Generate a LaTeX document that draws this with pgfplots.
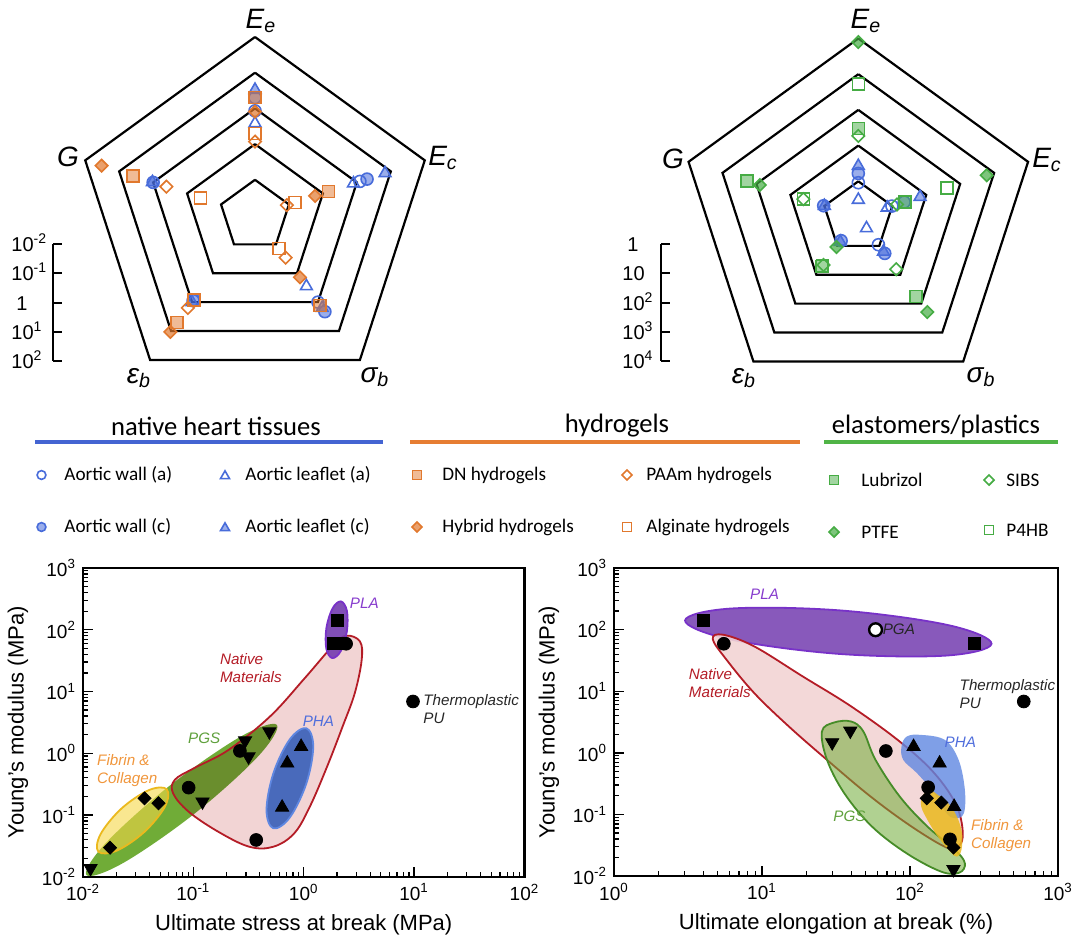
\documentclass[border=0pt]{standalone}
\usepackage{fontspec}
\setmainfont{Liberation Sans}
\newfontfamily\legfont{Carlito}
\usepackage{pgfplots}
\pgfplotsset{compat=1.18}
\definecolor{cblue}{RGB}{72,108,218}
\definecolor{corange}{RGB}{225,120,45}
\definecolor{cgreen}{RGB}{70,172,68}
\definecolor{hblue}{RGB}{68,100,210}
\definecolor{horange}{RGB}{230,125,50}
\definecolor{hgreen}{RGB}{80,180,70}
\definecolor{pinkF}{RGB}{242,212,212}
\definecolor{redE}{RGB}{180,28,38}
\definecolor{pgsF}{RGB}{112,172,55}
\definecolor{pgsE}{RGB}{70,140,40}
\definecolor{yelF}{RGB}{245,215,70}
\definecolor{yelE}{RGB}{235,185,30}
\definecolor{phaF}{RGB}{55,95,185}
\definecolor{phaE}{RGB}{95,135,225}
\definecolor{plaF}{RGB}{115,60,175}
\definecolor{plaE}{RGB}{120,50,200}
\definecolor{tPLA}{RGB}{135,60,205}
\definecolor{tPHA}{RGB}{80,110,220}
\definecolor{tPGS}{RGB}{95,160,60}
\definecolor{tFIB}{RGB}{240,150,60}
\tikzset{lab/.style={font=\itshape\fontsize{7.6}{9}\selectfont, align=left, inner sep=0pt},
  rlab/.style={font=\itshape\fontsize{14}{15}\selectfont}}
\pgfplotsset{
  radar/.style={anchor=center, x=17.85pt, y=17.85pt, xmin=-5.6, xmax=5.6, ymin=-5.6, ymax=5.6, hide axis, clip=false, data cs=polar},
  ring/.style={black, line width=1.1pt, mark=none, line join=miter},
  wallA/.style={only marks, mark=o, mark size=3pt, cblue, line width=0.8pt},
  wallC/.style={only marks, mark=*, mark size=3pt, mark options={draw=cblue, fill=cblue, fill opacity=0.55, line width=0.8pt}},
  leafA/.style={only marks, mark=triangle, mark size=3.4pt, cblue, line width=0.8pt},
  leafC/.style={only marks, mark=triangle*, mark size=3.4pt, mark options={draw=cblue, fill=cblue, fill opacity=0.55, line width=0.8pt}},
  dn/.style={only marks, mark=square*, mark size=3pt, mark options={draw=corange, fill=corange, fill opacity=0.5, line width=0.8pt}},
  hyb/.style={only marks, mark=square*, mark size=2.2pt, mark options={rotate=45, draw=corange, fill=corange, fill opacity=0.7, line width=0.8pt}},
  paam/.style={only marks, mark=square, mark size=2.2pt, mark options={rotate=45, draw=corange, line width=0.8pt}},
  alg/.style={only marks, mark=square, mark size=3pt, mark options={draw=corange, line width=0.8pt}},
  lub/.style={only marks, mark=square*, mark size=3pt, mark options={draw=cgreen, fill=cgreen, fill opacity=0.5, line width=0.8pt}},
  ptfe/.style={only marks, mark=square*, mark size=2.2pt, mark options={rotate=45, draw=cgreen, fill=cgreen, fill opacity=0.7, line width=0.8pt}},
  sibs/.style={only marks, mark=square, mark size=2.2pt, mark options={rotate=45, draw=cgreen, line width=0.8pt}},
  p4hb/.style={only marks, mark=square, mark size=3pt, mark options={draw=cgreen, line width=0.8pt}},
  bplot/.style={scale only axis, anchor=south west,
    axis line style={line width=1.1pt}, tick align=inside, tick pos=left,
    major tick length=5pt, minor tick length=2.6pt,
    major tick style={line width=0.7pt, black}, minor tick style={line width=0.6pt, black},
    ymin=0.01, ymax=1000, ytick={0.01,0.1,1,10,100,1000},
    yticklabels={10\textsuperscript{-2},10\textsuperscript{-1},10\textsuperscript{0},10\textsuperscript{1},10\textsuperscript{2},10\textsuperscript{3}},
    minor ytick={0.02,0.03,0.04,0.05,0.06,0.07,0.08,0.09,0.2,0.3,0.4,0.5,0.6,0.7,0.8,0.9,2,3,4,5,6,7,8,9,20,30,40,50,60,70,80,90,200,300,400,500,600,700,800,900},
    tick label style={font=\fontsize{9.5}{10}\selectfont},
    label style={font=\fontsize{11}{12}\selectfont},
    ylabel={Young's modulus (MPa)}},
  reg/.style={smooth cycle, tension=0.6, line width=0.9pt, mark=none},
  bc/.style={only marks, mark=*, mark size=3.2pt, black},
  bs/.style={only marks, mark=square*, mark size=3pt, black},
  bd/.style={only marks, mark=square*, mark size=2.3pt, black, mark options={rotate=45}},
  bdt/.style={only marks, mark=triangle*, mark size=3.8pt, black, mark options={rotate=180}},
  but/.style={only marks, mark=triangle*, mark size=3.8pt, black},
}
\begin{document}
\begin{tikzpicture}
\useasboundingbox (0,0) rectangle (540pt,-470.5pt);

% ---------- canvas: legend, radar labels, scale bars ----------
\begin{axis}[at={(0pt,0pt)}, anchor=north west, x=0.5pt, y=0.5pt, y dir=reverse,
  xmin=0, xmax=1080, ymin=0, ymax=941, hide axis, clip=false]
\node[rlab] at (261,21) {E\textsubscript{e}};
\node[rlab] at (443,158) {E\textsubscript{c}};
\node[rlab] at (68,157) {G};
\node[rlab] at (139,378) {ε\textsubscript{b}};
\node[rlab] at (375,377) {σ\textsubscript{b}};
\node[rlab] at (866,21) {E\textsubscript{e}};
\node[rlab] at (1047,160) {E\textsubscript{c}};
\node[rlab] at (673,159) {G};
\node[rlab] at (744,378) {ε\textsubscript{b}};
\node[rlab] at (981,377) {σ\textsubscript{b}};
\addplot[black, line width=0.9pt, mark=none] coordinates {(53,244) (53,361)};
\addplot[black, line width=0.9pt, mark=none, unbounded coords=jump] coordinates {(53,244) (62,244) (nan,nan) (53,273) (62,273) (nan,nan) (53,303) (62,303) (nan,nan) (53,332) (62,332) (nan,nan) (53,361) (62,361)};
\addplot[black, line width=0.9pt, mark=none] coordinates {(661,244) (661,361)};
\addplot[black, line width=0.9pt, mark=none, unbounded coords=jump] coordinates {(661,244) (670,244) (nan,nan) (661,273) (670,273) (nan,nan) (661,303) (670,303) (nan,nan) (661,332) (670,332) (nan,nan) (661,361) (670,361)};
\begin{scope}[every node/.style={font=\fontsize{10}{11}\selectfont, inner sep=0pt}]
\node[anchor=base west] at (11,251) {10\textsuperscript{-2}};
\node[anchor=base west] at (11,280) {10\textsuperscript{-1}};
\node[anchor=base] at (22,310) {1};
\node[anchor=base west] at (11,339) {10\textsuperscript{1}};
\node[anchor=base west] at (11,368) {10\textsuperscript{2}};
\node[anchor=base] at (633,251) {1};
\node[anchor=base west] at (622,280) {10};
\node[anchor=base west] at (622,310) {10\textsuperscript{2}};
\node[anchor=base west] at (622,339) {10\textsuperscript{3}};
\node[anchor=base west] at (622,368) {10\textsuperscript{4}};
\end{scope}
\addplot[hblue, line width=2pt, mark=none] coordinates {(35,442) (383,442)};
\addplot[horange, line width=2pt, mark=none] coordinates {(410,442) (800,442)};
\addplot[hgreen, line width=2pt, mark=none] coordinates {(824,442) (1058,442)};
\begin{scope}[every node/.style={font=\legfont\fontsize{13.3}{15}\selectfont}]
\node at (216,426) {native heart tissues};
\node at (617,426) {hydrogels};
\node at (936,426) {elastomers/plastics};
\end{scope}
\addplot[wallA, mark size=2.2pt] coordinates {(41.5,475)};
\addplot[wallC, mark size=2.2pt] coordinates {(41.5,527)};
\addplot[leafA, mark size=2.6pt] coordinates {(225,476)};
\addplot[leafC, mark size=2.6pt] coordinates {(225,528)};
\addplot[dn, mark size=2.3pt] coordinates {(417,475)};
\addplot[hyb, mark size=1.8pt] coordinates {(417,527)};
\addplot[paam, mark size=1.8pt] coordinates {(627,475)};
\addplot[alg, mark size=2.3pt] coordinates {(627,527)};
\addplot[lub, mark size=2.3pt] coordinates {(834,480)};
\addplot[ptfe, mark size=1.8pt] coordinates {(834,532)};
\addplot[sibs, mark size=1.8pt] coordinates {(989,480)};
\addplot[p4hb, mark size=2.3pt] coordinates {(989,530)};
\begin{scope}[every node/.style={font=\legfont\fontsize{9.6}{11}\selectfont, anchor=west, inner sep=0pt}]
\node at (64,475) {Aortic wall (a)};
\node at (64,527) {Aortic wall (c)};
\node at (245,475) {Aortic leaflet (a)};
\node at (245,527) {Aortic leaflet (c)};
\node at (442,475) {DN hydrogels};
\node at (442,527) {Hybrid hydrogels};
\node at (646,475) {PAAm hydrogels};
\node at (646,527) {Alginate hydrogels};
\node at (861,480) {Lubrizol};
\node at (861,532) {PTFE};
\node at (1006,480) {SIBS};
\node at (1006,530) {P4HB};
\end{scope}
\end{axis}

% ---------- left radar ----------
\begin{axis}[radar, at={(127.5pt,-107.75pt)}]
\addplot[ring] coordinates {(90,1) (18,1) (-54,1) (-126,1) (162,1) (90,1)};
\addplot[ring] coordinates {(90,2) (18,2) (-54,2) (-126,2) (162,2) (90,2)};
\addplot[ring] coordinates {(90,3) (18,3) (-54,3) (-126,3) (162,3) (90,3)};
\addplot[ring] coordinates {(90,4) (18,4) (-54,4) (-126,4) (162,4) (90,4)};
\addplot[ring] coordinates {(90,5) (18,5) (-54,5) (-126,5) (162,5) (90,5)};
\addplot[wallA] coordinates {(90,2.93) (18,3.09) (-54,3.0) (-126,2.92)};
\addplot[leafA] coordinates {(90,2.58) (18,2.90) (-54,2.45)};
\addplot[wallC] coordinates {(90,3.30) (18,3.30) (-54,3.33) (-126,2.95) (162,3.0)};
\addplot[leafC] coordinates {(90,3.52) (18,3.83) (-54,3.2) (-126,3.0) (162,3.02)};
\addplot[alg] coordinates {(90,2.30) (18,1.18) (-54,1.14) (-126,2.92) (162,1.61)};
\addplot[paam] coordinates {(90,2.07) (18,0.94) (-54,1.46) (-126,3.20) (162,2.61)};
\addplot[hyb] coordinates {(90,2.91) (18,1.77) (-54,2.14) (-126,4.03) (162,4.52)};
\addplot[dn] coordinates {(90,3.31) (18,2.16) (-54,3.11) (-126,3.71) (162,3.59)};
\end{axis}

% ---------- right radar ----------
\begin{axis}[radar, at={(429.15pt,-108.5pt)}]
\addplot[ring] coordinates {(90,1) (18,1) (-54,1) (-126,1) (162,1) (90,1)};
\addplot[ring] coordinates {(90,2) (18,2) (-54,2) (-126,2) (162,2) (90,2)};
\addplot[ring] coordinates {(90,3) (18,3) (-54,3) (-126,3) (162,3) (90,3)};
\addplot[ring] coordinates {(90,4) (18,4) (-54,4) (-126,4) (162,4) (90,4)};
\addplot[ring] coordinates {(90,5) (18,5) (-54,5) (-126,5) (162,5) (90,5)};
\addplot[wallA] coordinates {(90,0.96) (18,0.99) (-54,0.96)};
\addplot[leafA] coordinates {(90,0.48) (18,0.85) (-54,0.39)};
\addplot[wallC] coordinates {(90,1.22) (18,1.35) (-54,1.26) (-126,0.82) (162,1.02)};
\addplot[leafC] coordinates {(90,1.43) (18,1.82) (-54,1.2) (-126,0.86) (162,1.0)};
\addplot[p4hb] coordinates {(90,3.73) (18,2.61) (-54,2.75) (-126,1.72) (162,1.62)};
\addplot[sibs] coordinates {(90,2.27) (18,1.14) (-54,1.81) (-126,1.66) (162,1.62)};
\addplot[lub] coordinates {(90,2.48) (18,1.38) (-54,2.75) (-126,1.70) (162,3.27)};
\addplot[ptfe] coordinates {(90,4.9) (18,3.78) (-54,3.29) (-126,1.04) (162,2.90)};
\end{axis}

% ---------- bottom left ----------
\begin{loglogaxis}[bplot, at={(41.5pt,-438.35pt)}, width=220.75pt, height=154.35pt,
  xmin=0.01, xmax=100, xtick={0.01,0.1,1,10,100},
  xticklabels={10\textsuperscript{-2},10\textsuperscript{-1},10\textsuperscript{0},10\textsuperscript{1},10\textsuperscript{2}},
  minor xtick={0.02,0.03,0.04,0.05,0.06,0.07,0.08,0.09,0.2,0.3,0.4,0.5,0.6,0.7,0.8,0.9,2,3,4,5,6,7,8,9,20,30,40,50,60,70,80,90},
  xlabel={Ultimate stress at break (MPa)}]
\addplot[reg, draw=none, fill=pinkF] coordinates {(2.42,80.0) (3.23,64.7) (3.35,32.6) (2.90,9.40) (2.25,2.71) (1.628,0.608) (1.135,0.136) (0.820,0.0504) (0.531,0.0306) (0.321,0.0306) (0.1675,0.0537) (0.0906,0.113) (0.0655,0.2245) (0.0678,0.370) (0.101,0.571) (0.208,1.13) (0.494,3.93) (1.02,16.4) (1.815,53.7)};
\addplot[reg, draw=none, fill=pgsF, blend mode=multiply] coordinates {(0.571,2.88) (0.382,0.873) (0.101,0.103) (0.0230,0.0166) (0.01074,0.01064) (0.0161,0.0351) (0.0610,0.298) (0.267,1.85)};
\addplot[reg, draw=redE, fill=none] coordinates {(2.42,80.0) (3.23,64.7) (3.35,32.6) (2.90,9.40) (2.25,2.71) (1.628,0.608) (1.135,0.136) (0.820,0.0504) (0.531,0.0306) (0.321,0.0306) (0.1675,0.0537) (0.0906,0.113) (0.0655,0.2245) (0.0678,0.370) (0.101,0.571) (0.208,1.13) (0.494,3.93) (1.02,16.4) (1.815,53.7)};
\addplot[reg, draw=yelE, fill=yelF, fill opacity=0.6] coordinates {(0.0574,0.261) (0.0552,0.136) (0.0358,0.0528) (0.0202,0.0264) (0.0138,0.0254) (0.0144,0.0485) (0.0222,0.126) (0.0394,0.252)};
\addplot[reg, draw=phaE, fill=phaF, fill opacity=0.9] coordinates {(1.056,2.54) (1.219,1.29) (1.057,0.326) (0.750,0.0918) (0.531,0.0608) (0.460,0.120) (0.531,0.474) (0.748,1.68)};
\addplot[reg, draw=plaE, fill=plaF, fill opacity=0.9] coordinates {(2.17,288) (2.46,203) (2.46,94.6) (2.17,45.5) (1.815,34.8) (1.602,49.2) (1.603,105.7) (1.82,220)};
\addplot[bd] coordinates {(0.0176,0.0295) (0.0361,0.186) (0.0483,0.155)};
\addplot[bdt] coordinates {(0.0117,0.0137) (0.121,0.164) (0.294,1.60) (0.316,0.88) (0.488,2.24)};
\addplot[but] coordinates {(0.637,0.133) (0.709,0.689) (0.947,1.28)};
\addplot[bs] coordinates {(2.02,140) (1.84,61) (2.07,61)};
\addplot[bc] coordinates {(0.0906,0.277) (0.264,1.09) (0.371,0.0394) (2.42,59.3) (9.77,6.89)};
\node[lab, text=tPLA, anchor=west] at (2.60,270) {PLA};
\node[lab, text=redE, anchor=west] at (0.173,23.9) {Native\\Materials};
\node[lab, text=tPHA] at (1.36,3.26) {PHA};
\node[lab, text=tPGS] at (0.1254,1.75) {PGS};
\node[lab, text=tFIB, anchor=west] at (0.01335,0.524) {Fibrin \&\\Collagen};
\node[lab, text=black!85, anchor=west] at (12.05,5.17) {Thermoplastic\\PU};
\end{loglogaxis}

% ---------- bottom right ----------
\begin{loglogaxis}[bplot, at={(307pt,-438pt)}, width=222pt, height=154pt,
  xmin=1, xmax=1000, xtick={1,10,100,1000},
  xticklabels={10\textsuperscript{0},10\textsuperscript{1},10\textsuperscript{2},10\textsuperscript{3}},
  minor xtick={2,3,4,5,6,7,8,9,20,30,40,50,60,70,80,90,200,300,400,500,600,700,800,900},
  xlabel={Ultimate elongation at break (\%)}]
\addplot[reg, draw=plaE, fill=plaF, fill opacity=0.85] coordinates {(355.6,58.9) (173.6,37.8) (31.9,40.6) (5.95,70.2) (3.02,141) (6.18,220) (33.7,205) (180.4,118.6)};
\addplot[reg, draw=redE, fill=pinkF, fill opacity=0.9] coordinates {(4.645,70.2) (5.46,82.6) (8.87,53.3) (18.9,17.3) (40.1,5.65) (85.3,1.52) (146.1,0.466) (207.5,0.134) (227.3,0.0435) (201.9,0.0282) (162.7,0.0319) (95.0,0.0718) (52.5,0.207) (27.5,0.767) (15.2,2.67) (8.87,9.30) (5.76,32.4)};
\addplot[reg, draw=pgsE, fill=pgsF, fill opacity=0.55] coordinates {(25.4,2.216) (30.6,3.10) (40.1,3.22) (48.4,2.216) (58.5,0.767) (85.3,0.1946) (131.2,0.0634) (201.9,0.02645) (234.8,0.01607) (215.4,0.01133) (162.7,0.01176) (95.0,0.0233) (55.4,0.0634) (36.0,0.220) (27.5,0.767)};
\addplot[reg, draw=none, fill=phaE, fill opacity=0.8] coordinates {(87.6,1.265) (95.0,1.836) (117.8,1.957) (171.8,1.62) (213.1,0.767) (234.8,0.2497) (231.1,0.1043) (201.9,0.0866) (176.5,0.1043) (146.1,0.220) (111.6,0.466) (90.0,0.767)};
\addplot[reg, draw=none, fill=yelE, fill opacity=0.85] coordinates {(121.0,0.1946) (134.8,0.2497) (154.3,0.207) (181.3,0.1517) (207.5,0.092) (224.9,0.0494) (222.5,0.02645) (207.5,0.0206) (186.2,0.0249) (154.3,0.0435) (131.2,0.0813) (119.1,0.134)};
\addplot[bs] coordinates {(4.00,139) (271.6,60.4)};
\addplot[only marks, mark=*, mark size=3.2pt, mark options={draw=black, fill=white, line width=1.2pt}] coordinates {(58.5,99.6)};
\addplot[bc] coordinates {(5.52,58.9) (68.7,1.07) (132.6,0.276) (186.2,0.0394) (587,6.81)};
\addplot[bdt] coordinates {(29.8,1.47) (39.5,2.27) (196.6,0.0128)};
\addplot[but] coordinates {(105.7,1.26) (158.5,0.678) (198.7,0.134)};
\addplot[bd] coordinates {(129.8,0.183) (162.7,0.1555) (196.6,0.0289)};
\node[lab, text=tPLA] at (10.4,369) {PLA};
\node[lab, text=black!85, anchor=west] at (65.1,99.6) {PGA};
\node[lab, text=redE, anchor=west] at (3.19,13.4) {Native\\Materials};
\node[lab, text=black!85, anchor=west] at (215.4,8.85) {Thermoplastic\\PU};
\node[lab, text=tPHA] at (218.9,1.47) {PHA};
\node[lab, text=tPGS] at (39.0,0.092) {PGS};
\node[lab, text=tFIB, anchor=west] at (257.4,0.0447) {Fibrin \&\\Collagen};
\end{loglogaxis}
\end{tikzpicture}
\end{document}
